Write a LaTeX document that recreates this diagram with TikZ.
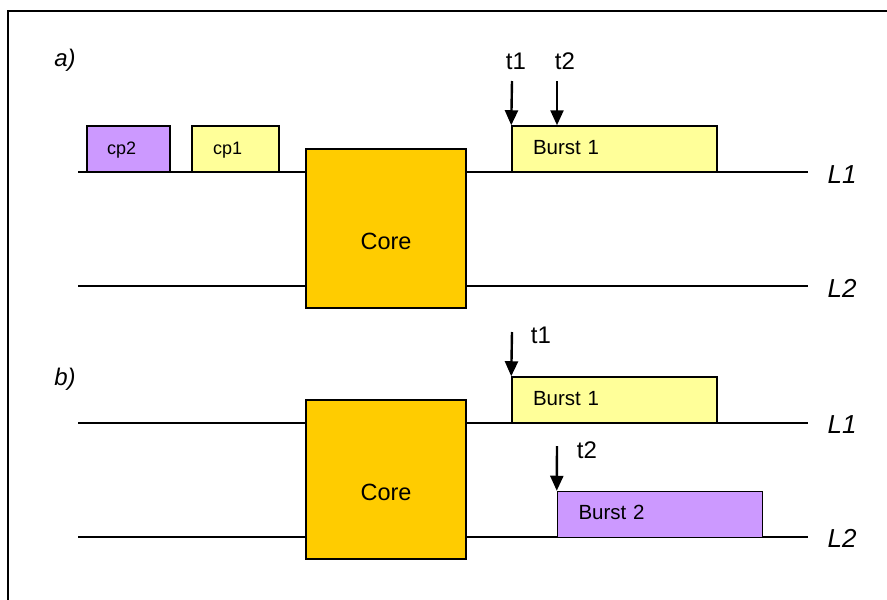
\documentclass[tikz,border=0pt]{standalone}
\usepackage{fontspec}
\setmainfont{Liberation Sans}
\usetikzlibrary{arrows.meta}
\definecolor{corey}{HTML}{FFCC00}
\definecolor{lighty}{HTML}{FFFF99}
\definecolor{lilac}{HTML}{CC99FF}
\begin{document}
\begin{tikzpicture}[x=1pt,y=-1pt,
  lane/.style={line width=1.8pt},
  box/.style={draw=black, line width=1.5pt, inner sep=0pt, minimum height=46pt, text height=14pt, text depth=4pt},
  burstbox/.style={box, text width=163pt, inner xsep=21pt, align=left, font=\fontsize{20.5}{24}\selectfont},
  cpbox/.style={box, align=left, font=\fontsize{18}{21}\selectfont},
  corebox/.style={draw=black, line width=1.5pt, fill=corey, minimum width=160pt, minimum height=159pt, inner sep=0pt},
  coretext/.style={font=\fontsize{23.5}{26}\selectfont, inner sep=0pt},
  tlabel/.style={font=\fontsize{24}{28}\selectfont, inner sep=0pt},
  llabel/.style={font=\fontsize{26}{30}\selectfont\itshape, inner sep=0pt},
  plabel/.style={font=\fontsize{24}{28}\selectfont\itshape, inner sep=0pt},
  arr/.style={-{Triangle[length=15pt,width=13pt]}, line width=2.4pt},
  frame/.style={line width=2pt}
]
\useasboundingbox (0,0) rectangle (887,600);
% frame
\coordinate (f1) at (8,600);
\coordinate (f2) at (8,11);
\coordinate (f3) at (887,11);
\draw[frame] (f1) -- (f2) -- (f3);

% ---------- a) ----------
\node[plabel] (pa) at (65,60) {a)};
\coordinate (a1s) at (78,172);
\coordinate (a1e) at (808,172);
\coordinate (a2s) at (78,286);
\coordinate (a2e) at (808,286);
\draw[lane] (a1s) -- (a1e);
\draw[lane] (a2s) -- (a2e);
\node[cpbox, fill=lilac, text width=43pt, inner xsep=20pt] (cp2) at (128.5,149) {cp2};
\node[cpbox, fill=lighty, text width=45pt, inner xsep=21pt] (cp1) at (235.5,149) {cp1};
\node[corebox] (corea) at (386,228.5) {};
\node[coretext] (coreat) at (386,241) {Core};
\node[burstbox, fill=lighty] (ba) at (614.5,149) {Burst 1};
\coordinate (at1) at (512,81);
\coordinate (at2) at (557,81);
\draw[arr] (at1) -- (ba.north west);
\draw[arr] (at2) -- (ba.north west -| at2);
\node[tlabel] (t1a) at (516,61) {t1};
\node[tlabel] (t2a) at (565,61) {t2};
\node[llabel] (l1a) at (842,175) {L1};
\node[llabel] (l2a) at (842,288) {L2};

% ---------- b) ----------
\node[plabel] (pb) at (65,379) {b)};
\coordinate (b1s) at (78,423);
\coordinate (b1e) at (808,423);
\coordinate (b2s) at (78,537);
\coordinate (b2e) at (808,537);
\draw[lane] (b1s) -- (b1e);
\draw[lane] (b2s) -- (b2e);
\node[corebox] (coreb) at (386,479.5) {};
\node[coretext] (corebt) at (386,492) {Core};
\node[burstbox, fill=lighty] (bb1) at (614.5,400) {Burst 1};
\node[burstbox, fill=lilac] (bb2) at (660,514.5) {Burst 2};
\coordinate (bt1) at (512,332);
\coordinate (bt2) at (557,446);
\draw[arr] (bt1) -- (bb1.north west);
\draw[arr] (bt2) -- (bb2.north west);
\node[tlabel] (t1b) at (541,335) {t1};
\node[tlabel] (t2b) at (587,450) {t2};
\node[llabel] (l1b) at (842,425) {L1};
\node[llabel] (l2b) at (842,538) {L2};
\end{tikzpicture}
\end{document}
